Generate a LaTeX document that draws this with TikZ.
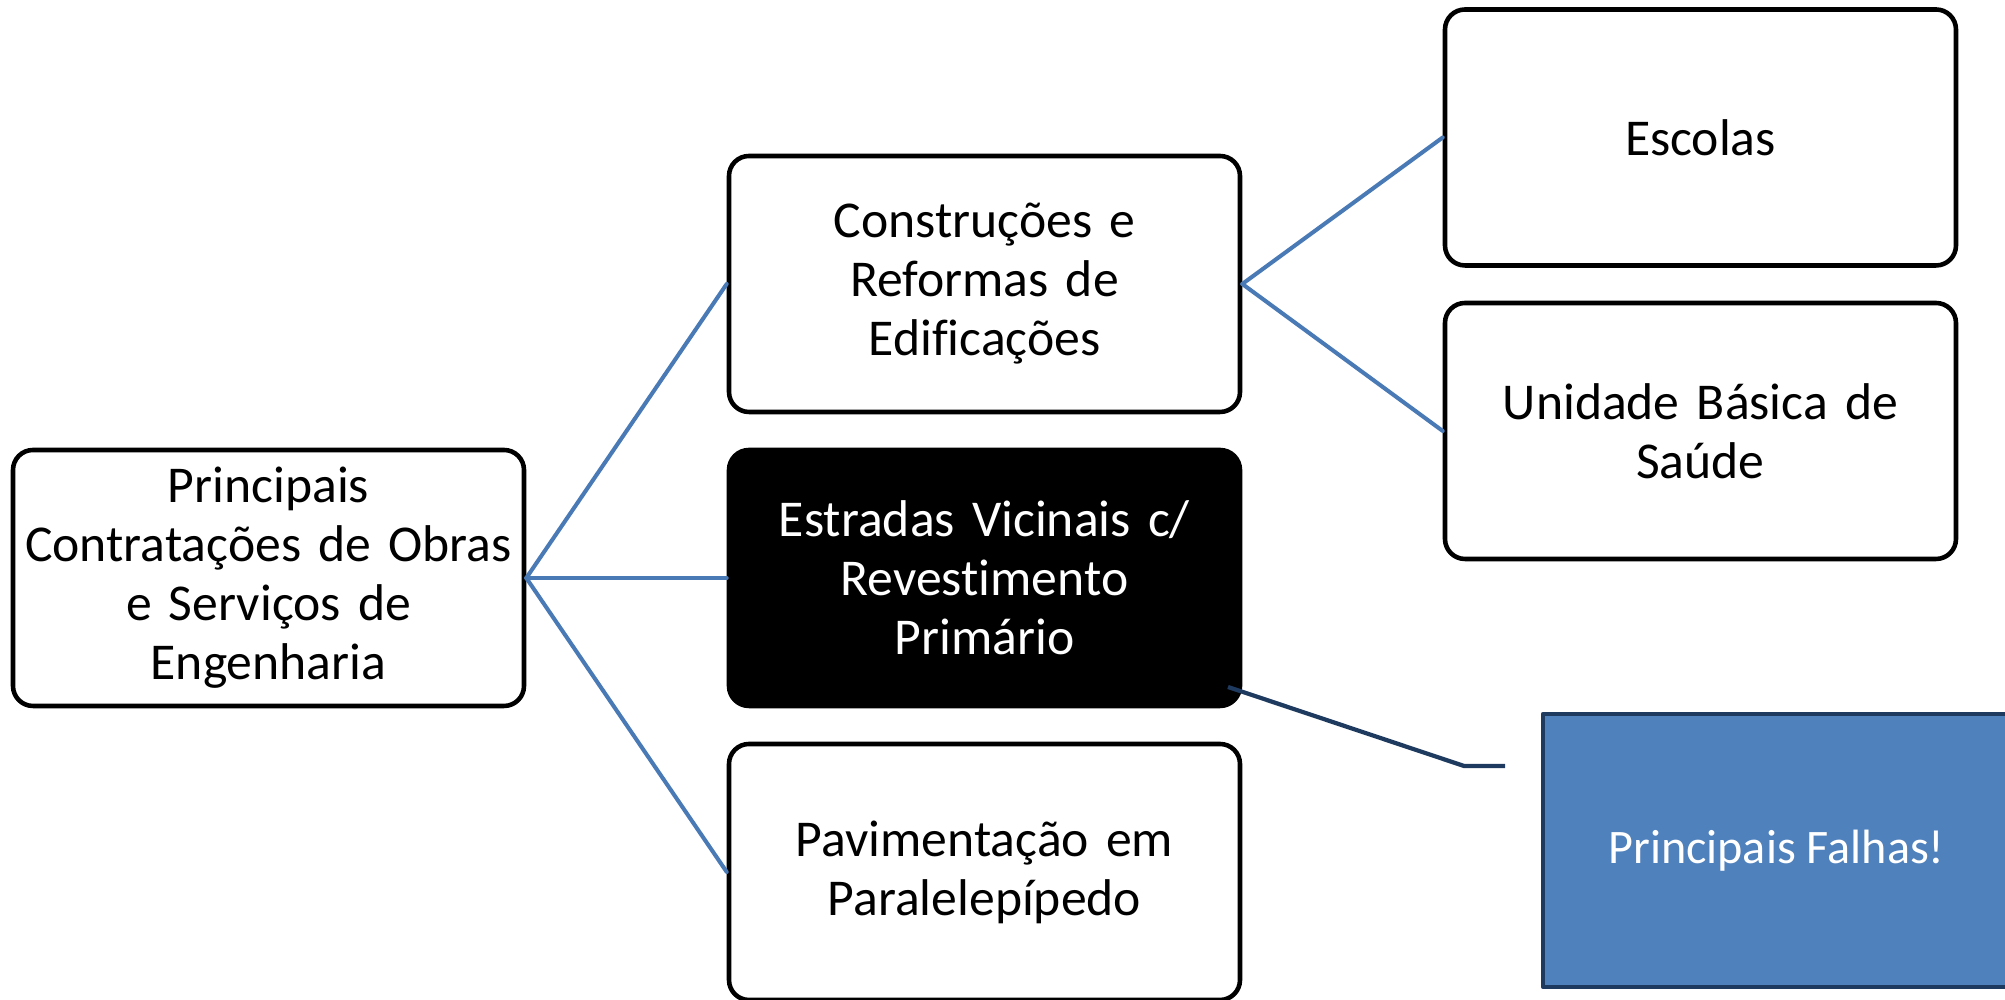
\documentclass[tikz,border=0pt]{standalone}
\usepackage{fontspec}
\setmainfont{Carlito}[Ligatures=NoCommon]
\usepackage{tikz}
\usetikzlibrary{arrows}

\definecolor{linkblue}{HTML}{4A7AB5}
\definecolor{calloutfill}{HTML}{4F81BD}
\definecolor{calloutline}{HTML}{1F3A5F}

\tikzset{
  box/.style={draw=black,line width=1.3pt,rounded corners=0.2cm,fill=white,
    minimum width=5.11cm,minimum height=2.56cm,text width=5.0cm,align=center,
    inner sep=0pt,font=\fontsize{14.7}{16.8}\selectfont},
  darkbox/.style={box,fill=black,text=white},
  link/.style={draw=linkblue,line width=1.15pt},
  falha/.style={draw=calloutline,line width=1.2pt,fill=calloutfill,text=white,
    minimum width=4.67cm,minimum height=2.73cm,inner sep=0pt,
    font=\fontsize{13.7}{16}\selectfont}
}

\begin{document}
\begin{tikzpicture}[line cap=round,line join=round,x=1.0cm,y=1.0cm]
        \useasboundingbox (0,0) rectangle (20.05,10);
        \draw (2.685,4.22) node[box] (root) {Principais\\Contratações de Obras\\e Serviços de\\Engenharia};
        \draw (9.845,7.16) node[box] (constr) {Construções e\\Reformas de\\Edificações};
        \draw (9.845,4.22) node[darkbox] (estradas) {Estradas Vicinais c/\\Revestimento\\Primário};
        \draw (9.845,1.28) node[box] (pavim) {Pavimentação em\\Paralelepípedo};
        \draw (17.005,8.625) node[box] (escolas) {Escolas};
        \draw (17.005,5.69) node[box] (ubs) {Unidade Básica de\\Saúde};
        \draw (17.765,1.495) node[falha] (falhas) {Principais Falhas!};
        \draw [link] (root.east) -- (constr.west);
        \draw [link] (root.east) -- (estradas.west);
        \draw [link] (root.east) -- (pavim.west);
        \draw [link] (constr.east) -- (escolas.west);
        \draw [link] (constr.east) -- (ubs.west);
        % callout pointer
        \coordinate (tip) at (12.28,3.13);
        \coordinate (knee) at (14.64,2.34);
        \coordinate (tail) at (15.05,2.34);
        \draw [draw=calloutline,line width=1.2pt,line cap=butt] (tip) -- (knee) -- (tail);
    \end{tikzpicture}
\end{document}
